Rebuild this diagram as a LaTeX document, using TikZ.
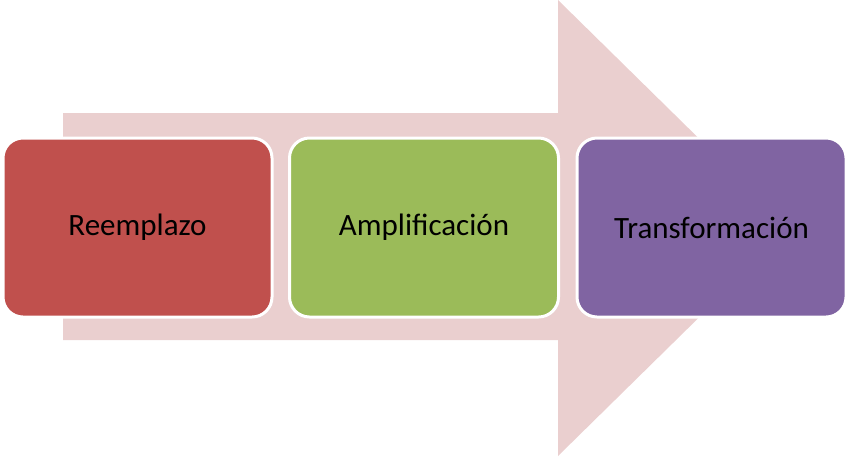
\documentclass[tikz,border=0pt]{standalone}
\usepackage{fontspec}
\setmainfont{Carlito}
\definecolor{arrowc}{HTML}{EACFCF}
\definecolor{redc}{HTML}{C0504D}
\definecolor{greenc}{HTML}{9BBB59}
\definecolor{purplec}{HTML}{8064A2}
\tikzset{stage/.style={draw=white,line width=3pt,rounded corners=20pt,minimum width=269pt,minimum height=179pt,inner sep=0pt,font=\fontsize{31}{36}\selectfont,text=black}}
\begin{document}
\begin{tikzpicture}[x=1pt,y=-1pt]
\useasboundingbox (0,0) rectangle (850,456);
\fill[arrowc] (63,113) -- (558,113) -- (558,0) -- (790,228) -- (558,456) -- (558,340) -- (63,340) -- cycle;
\node[stage,fill=redc] (a) at (137.5,227.5) {Reemplazo};
\node[stage,fill=greenc] (b) at (424,227.5) {Amplificación};
\node[stage,fill=purplec] (c) at (711.5,227.5) {Transformación};
\end{tikzpicture}
\end{document}
